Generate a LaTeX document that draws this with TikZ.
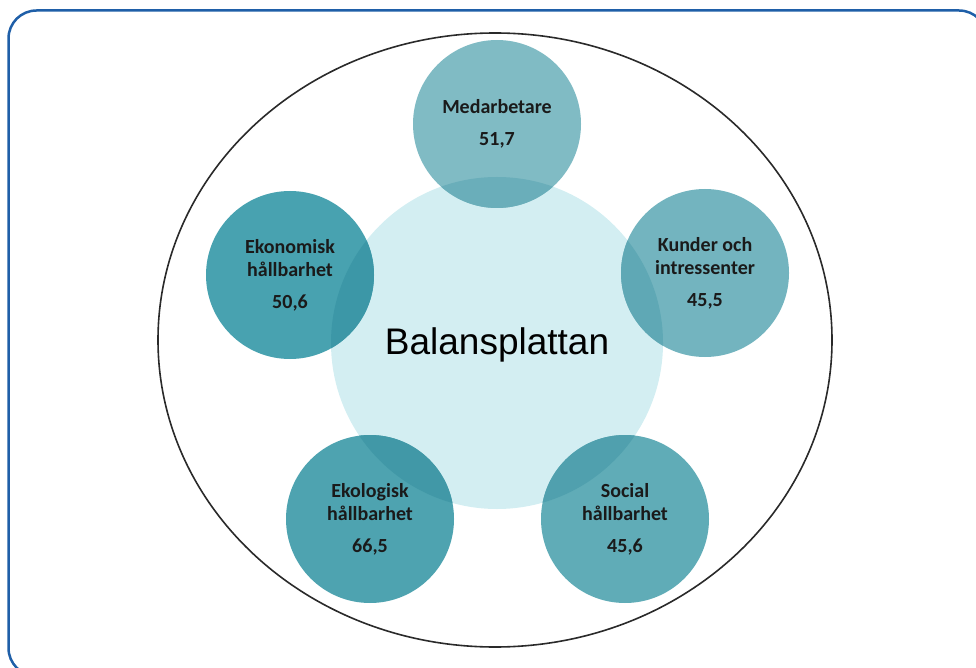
\documentclass[tikz,border=0pt]{standalone}
\usepackage{fontspec}
\setmainfont{Carlito}
\newfontfamily\arialfont{Liberation Sans}
\definecolor{frameblue}{HTML}{1F5FA8}
\definecolor{ringgray}{HTML}{2A2A2A}
\definecolor{hubfill}{HTML}{D3EEF2}
\definecolor{medfill}{HTML}{80BBC4}
\definecolor{medover}{HTML}{6AAEBA}
\definecolor{ekofill}{HTML}{48A2B0}
\definecolor{ekoover}{HTML}{3C97A7}
\definecolor{kunfill}{HTML}{73B4BF}
\definecolor{kunover}{HTML}{5FA8B5}
\definecolor{ekolfill}{HTML}{4EA3B0}
\definecolor{ekolover}{HTML}{4198A7}
\definecolor{socfill}{HTML}{60ACB7}
\definecolor{socover}{HTML}{50A0AE}
\definecolor{labeltext}{HTML}{1A1A1A}
\tikzset{
  petal/.style={circle, minimum size=168pt, inner sep=0pt, align=center,
    text=labeltext, font=\fontsize{20}{23}\selectfont\bfseries},
  hub/.style={circle, minimum size=332pt, inner sep=0pt, fill=hubfill},
}
\begin{document}
\begin{tikzpicture}[x=1pt,y=-1pt]
  \useasboundingbox (0,0) rectangle (976,668);
  % outer frame
  \draw[frameblue, line width=2.5pt, rounded corners=28pt]
    (8.5,10.5) rectangle (987,676);
  % enclosing ring
  \draw[ringgray, line width=1.6pt] (495,340) ellipse [x radius=337pt, y radius=307pt];
  % central hub
  \node[hub] (hub) at (497,343) {};
  % surrounding circles
  \node[petal, fill=medfill]  (med)  at (497,124) {Medarbetare\\[9pt]51,7};
  \node[petal, fill=ekofill]  (eko)  at (290,275) {Ekonomisk\\hållbarhet\\[9pt]50,6};
  \node[petal, fill=kunfill]  (kun)  at (705,273) {Kunder och\\intressenter\\[9pt]45,5};
  \node[petal, fill=ekolfill] (ekol) at (370,519) {Ekologisk\\hållbarhet\\[9pt]66,5};
  \node[petal, fill=socfill]  (soc)  at (625,519) {Social\\hållbarhet\\[9pt]45,6};
  % darker overlaps where the circles cover the hub
  \begin{scope}
    \clip (hub.center) circle [radius=166pt];
    \fill[medover]  (med.center)  circle [radius=84pt];
    \fill[ekoover]  (eko.center)  circle [radius=84pt];
    \fill[kunover]  (kun.center)  circle [radius=84pt];
    \fill[ekolover] (ekol.center) circle [radius=84pt];
    \fill[socover]  (soc.center)  circle [radius=84pt];
  \end{scope}
  % hub title
  \node[font=\arialfont\fontsize{37}{41}\selectfont, text=black] (title) at (497,345) {Balansplattan};
\end{tikzpicture}
\end{document}
